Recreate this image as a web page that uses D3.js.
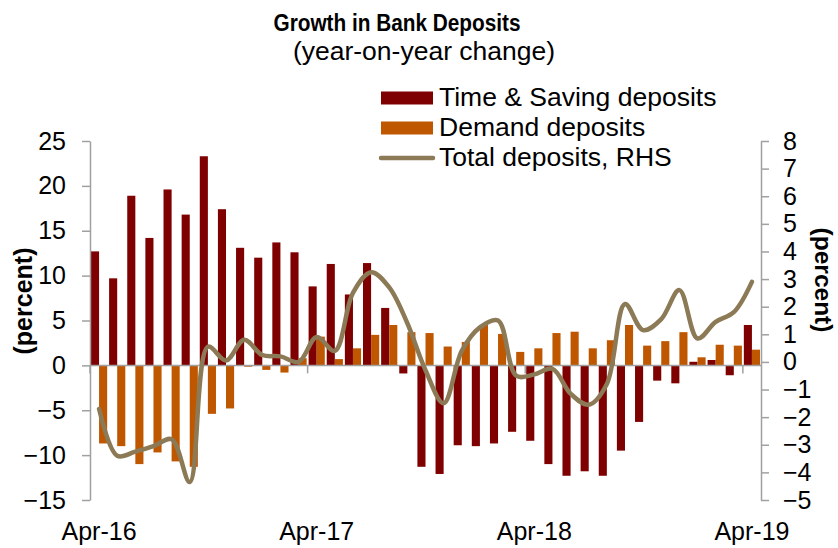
<!DOCTYPE html>
<html><head><meta charset="utf-8">
<script src="https://cdn.jsdelivr.net/npm/d3@7"></script>
<style>
html,body{margin:0;padding:0;background:#fff;}
text{font-family:"Liberation Sans",Arial,sans-serif;fill:#000;}
</style></head>
<body>
<svg id="c" width="838" height="548"></svg>
<script>
const months = ["Apr-16","May-16","Jun-16","Jul-16","Aug-16","Sep-16","Oct-16","Nov-16","Dec-16","Jan-17","Feb-17","Mar-17",
"Apr-17","May-17","Jun-17","Jul-17","Aug-17","Sep-17","Oct-17","Nov-17","Dec-17","Jan-18","Feb-18","Mar-18",
"Apr-18","May-18","Jun-18","Jul-18","Aug-18","Sep-18","Oct-18","Nov-18","Dec-18","Jan-19","Feb-19","Mar-19","Apr-19"];
const timeSaving = [12.7, 9.7, 18.9, 14.2, 19.6, 16.8, 23.3, 17.4, 13.1, 12.0, 13.7, 12.6,
  8.8, 11.3, 7.9, 11.4, 6.4, -0.9, -11.3, -12.1, -8.9, -9.0, -8.7, -7.4,
  -8.4, -11.0, -12.3, -11.8, -12.3, -9.5, -6.3, -1.7, -2.0, 0.4, 0.6, -1.1, 4.5];
const demand = [-8.7, -9.0, -11.0, -9.7, -10.7, -11.3, -5.4, -4.8, -0.15, -0.5, -0.8, 0.8,
  3.2, 0.7, 1.9, 3.4, 4.5, 3.7, 3.6, 2.1, 2.6, 4.5, 3.5, 1.5,
  1.9, 3.6, 3.75, 1.9, 2.8, 4.5, 2.2, 2.7, 3.7, 0.9, 2.3, 2.2, 1.75];
const total = [-1.7, -3.4, -3.25, -3.05, -2.8, -4.35, 0.55, 0.05, 0.8, 0.25, 0.2, 0.0,
  0.9, 0.4, 2.5, 3.25, 2.7, 1.4, -0.3, -1.5, 0.4, 1.25, 1.5, -0.5,
  -0.45, -0.25, -1.15, -1.55, -0.8, 2.1, 1.15, 1.55, 2.6, 0.85, 1.45, 1.8, 2.9];
const leftTicks = [-15,-10,-5,0,5,10,15,20,25];
const rightTicks = [-5,-4,-3,-2,-1,0,1,2,3,4,5,6,7,8];
const xLabels = ["Apr-16","Apr-17","Apr-18","Apr-19"];
const seriesNames = ["Time & Saving deposits","Demand deposits","Total deposits, RHS"];
const colors = {ts:"#7f0000", dem:"#bf5700", tot:"#8c7a56", axis:"#a0a0a0"};

const svg = d3.select("#c");
const X0 = 90, X1 = 761, Y0 = 141, Y1 = 500;
const FS = 25;
const x = d3.scaleBand().domain(months).range([X0, X1]).paddingInner(0).paddingOuter(0);
const yL = d3.scaleLinear().domain([-15,25]).range([Y1,Y0]);
const yR = d3.scaleLinear().domain([-5,8]).range([Y1,Y0]);
const sub = d3.scaleBand().domain(["ts","dem"]).range([0, x.bandwidth()]).paddingInner(0).paddingOuter(0.12);

// bars
const g = svg.append("g");
g.selectAll("rect.ts").data(months).join("rect")
  .attr("x", d => x(d) + sub("ts")).attr("width", sub.bandwidth())
  .attr("y", (d,i) => yL(Math.max(0,timeSaving[i])))
  .attr("height", (d,i) => Math.abs(yL(timeSaving[i]) - yL(0)))
  .attr("fill", colors.ts);
g.selectAll("rect.dem").data(months).join("rect")
  .attr("x", d => x(d) + sub("dem")).attr("width", sub.bandwidth())
  .attr("y", (d,i) => yL(Math.max(0,demand[i])))
  .attr("height", (d,i) => Math.abs(yL(demand[i]) - yL(0)))
  .attr("fill", colors.dem);

// left axis
const axL = svg.append("g").attr("transform", `translate(${X0},0)`)
  .call(d3.axisLeft(yL).tickValues(leftTicks).tickSize(8).tickPadding(16).tickSizeOuter(0));
axL.select(".domain").attr("stroke", colors.axis).attr("stroke-width", 1.5);
axL.selectAll(".tick line").attr("stroke", colors.axis).attr("stroke-width", 1.5);
axL.selectAll(".tick text").attr("font-size", FS).attr("font-family","Liberation Sans, Arial, sans-serif").attr("fill","#000");

// right axis
const axR = svg.append("g").attr("transform", `translate(${X1},0)`)
  .call(d3.axisRight(yR).tickValues(rightTicks).tickSize(8).tickPadding(14).tickSizeOuter(0));
axR.select(".domain").attr("stroke", colors.axis).attr("stroke-width", 1.5);
axR.selectAll(".tick line").attr("stroke", colors.axis).attr("stroke-width", 1.5);
axR.selectAll(".tick text").attr("font-size", FS).attr("font-family","Liberation Sans, Arial, sans-serif").attr("fill","#000");

// category axis at zero
const y0 = yL(0);
svg.append("line").attr("x1", X0).attr("x2", X1).attr("y1", y0).attr("y2", y0)
  .attr("stroke", colors.axis).attr("stroke-width", 1.5);
svg.selectAll("line.xt").data(xLabels).join("line")
  .attr("x1", d => x(d)).attr("x2", d => x(d)).attr("y1", y0).attr("y2", y0 + 8)
  .attr("stroke", colors.axis).attr("stroke-width", 1.5);
svg.selectAll("text.xl").data(xLabels).join("text")
  .attr("x", d => x(d) + x.bandwidth()/2).attr("y", 540).attr("text-anchor","middle")
  .attr("font-size", FS).text(d => d);

// total line
const line = d3.line().x((d,i) => x(months[i]) + x.bandwidth()/2).y(d => yR(d))
  .curve(d3.curveCatmullRom.alpha(0.5));
svg.append("path").datum(total).attr("d", line).attr("fill","none")
  .attr("stroke", colors.tot).attr("stroke-width", 4.5).attr("stroke-linejoin","round").attr("stroke-linecap","round");

// titles
svg.append("text").attr("x", 397).attr("y", 31).attr("text-anchor","middle")
  .attr("font-size", 23).attr("font-weight","bold")
  .attr("textLength", 247).attr("lengthAdjust","spacingAndGlyphs").text("Growth in Bank Deposits");
svg.append("text").attr("x", 424).attr("y", 60).attr("text-anchor","middle")
  .attr("font-size", 26.5).text("(year-on-year change)");

// axis titles
svg.append("text").attr("transform","translate(32,301) rotate(-90)").attr("text-anchor","middle")
  .attr("font-size", 25).attr("font-weight","bold").text("(percent)");
svg.append("text").attr("transform","translate(815,280) rotate(90)").attr("text-anchor","middle")
  .attr("font-size", 24.5).attr("font-weight","bold").text("(percent)");

// legend
const lg = svg.append("g");
const rowY = [98, 128, 158];
lg.append("rect").attr("x",381).attr("y",rowY[0]-6.5).attr("width",52).attr("height",13).attr("fill",colors.ts);
lg.append("rect").attr("x",381).attr("y",rowY[1]-6.5).attr("width",52).attr("height",13).attr("fill",colors.dem);
lg.append("line").attr("x1",381).attr("x2",433).attr("y1",rowY[2]).attr("y2",rowY[2])
  .attr("stroke",colors.tot).attr("stroke-width",4.5).attr("stroke-linecap","round");
lg.selectAll("text").data(seriesNames).join("text")
  .attr("x", 439).attr("y", (d,i) => rowY[i] + 8).attr("font-size", 26.5).text(d => d);
</script>
</body></html>
